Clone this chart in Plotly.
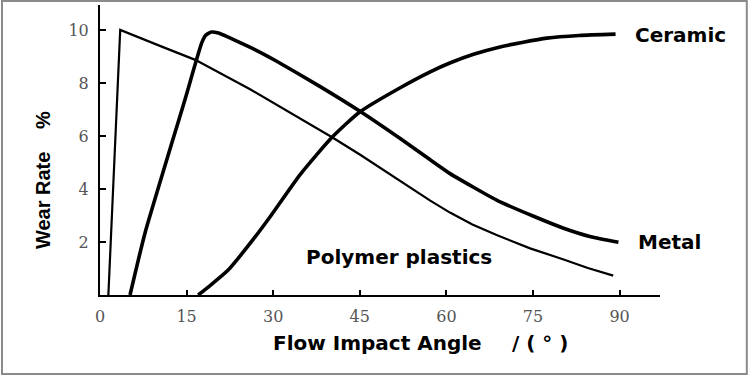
import plotly.graph_objects as go

# Data (angle in degrees, wear rate in %)
polymer_x = [1.45, 3.5, 10.7, 16.5, 26.0, 31.8, 40.2, 45.0, 49.1, 53.0, 57.2, 60.7, 64.5, 68.7, 74.5, 80.3, 84.5, 88.9]
polymer_y = [0.0, 10.0, 9.37, 8.87, 7.76, 7.02, 5.95, 5.30, 4.72, 4.14, 3.56, 3.10, 2.66, 2.26, 1.76, 1.34, 1.02, 0.73]

metal_x = [5.2, 7.8, 14.7, 17.6, 18.3, 19.3, 20.5, 26.9, 30.6, 38.0, 45.1, 52.0, 57.2, 60.7, 68.7, 75.0, 80.3, 85.0, 89.8]
metal_y = [0.0, 2.34, 7.36, 9.50, 9.80, 9.92, 9.88, 9.25, 8.82, 7.88, 6.92, 5.90, 5.10, 4.57, 3.58, 2.98, 2.52, 2.20, 1.99]

ceramic_x = [17.0, 18.8, 22.2, 26.9, 29.5, 34.7, 40.2, 45.1, 52.0, 57.2, 60.7, 64.7, 69.3, 77.4, 83.0, 89.3]
ceramic_y = [0.0, 0.31, 0.94, 2.20, 2.96, 4.55, 5.95, 6.92, 7.82, 8.42, 8.76, 9.08, 9.36, 9.69, 9.79, 9.84]

x_ticks = [0, 15, 30, 45, 60, 75, 90]
y_ticks = [2, 4, 6, 8, 10]

labels = ["Ceramic", "Metal", "Polymer plastics"]
label_x = [92.4, 92.9, 35.3]
label_y = [9.81, 2.0, 1.43]

fig = go.Figure()
fig.add_trace(go.Scatter(x=polymer_x, y=polymer_y, mode="lines",
                         line=dict(color="black", width=2.2), name="Polymer plastics"))
fig.add_trace(go.Scatter(x=metal_x, y=metal_y, mode="lines",
                         line=dict(color="black", width=3.6, shape="spline", smoothing=0.5),
                         name="Metal"))
fig.add_trace(go.Scatter(x=ceramic_x, y=ceramic_y, mode="lines",
                         line=dict(color="black", width=3.6, shape="spline", smoothing=0.6),
                         name="Ceramic"))

label_font = dict(family="DejaVu Sans", size=20, color="black", weight="bold")
for t, lx, ly in zip(labels, label_x, label_y):
    fig.add_annotation(x=lx, y=ly, xref="x", yref="y", text=t, showarrow=False,
                       xanchor="left", yanchor="middle", font=label_font)

# axis titles
fig.add_annotation(x=0.305, y=-0.165, xref="paper", yref="paper", text="Flow Impact Angle",
                   showarrow=False, xanchor="left", yanchor="middle", font=label_font)
fig.add_annotation(x=0.733, y=-0.165, xref="paper", yref="paper", text="/ ( ° )",
                   showarrow=False, xanchor="left", yanchor="middle", font=label_font)
yt_font = dict(family="Liberation Sans", size=20, color="black", weight="bold")
fig.add_annotation(x=-0.102, y=0.327, xref="paper", yref="paper", text="Wear Rate",
                   showarrow=False, textangle=-90, xanchor="center", yanchor="middle", font=yt_font)
fig.add_annotation(x=-0.102, y=0.603, xref="paper", yref="paper", text="%",
                   showarrow=False, textangle=-90, xanchor="center", yanchor="middle", font=yt_font)

# outer grey frame of the picture
fig.add_shape(type="rect", xref="paper", yref="paper", x0=-0.175, x1=1.155, y0=-0.272, y1=1.014,
              line=dict(color="#8a8a8a", width=2), fillcolor="rgba(0,0,0,0)", layer="below")

tick_font = dict(family="DejaVu Serif", size=16, color="#555555")
fig.update_layout(
    width=750, height=376,
    margin=dict(l=100, r=90, t=5, b=81),
    paper_bgcolor="white", plot_bgcolor="white",
    showlegend=False,
    xaxis=dict(range=[0, 97], tickvals=x_ticks, ticks="inside", ticklen=5, tickwidth=2,
               tickcolor="black", showline=True, linecolor="black", linewidth=2,
               showgrid=False, zeroline=False, tickfont=tick_font, ticklabelstandoff=6),
    yaxis=dict(range=[0, 10.94], tickvals=y_ticks, ticks="inside", ticklen=6, tickwidth=2,
               tickcolor="black", showline=True, linecolor="black", linewidth=2,
               showgrid=False, zeroline=False, tickfont=tick_font, ticklabelstandoff=6),
)
fig.write_html("out.html")
